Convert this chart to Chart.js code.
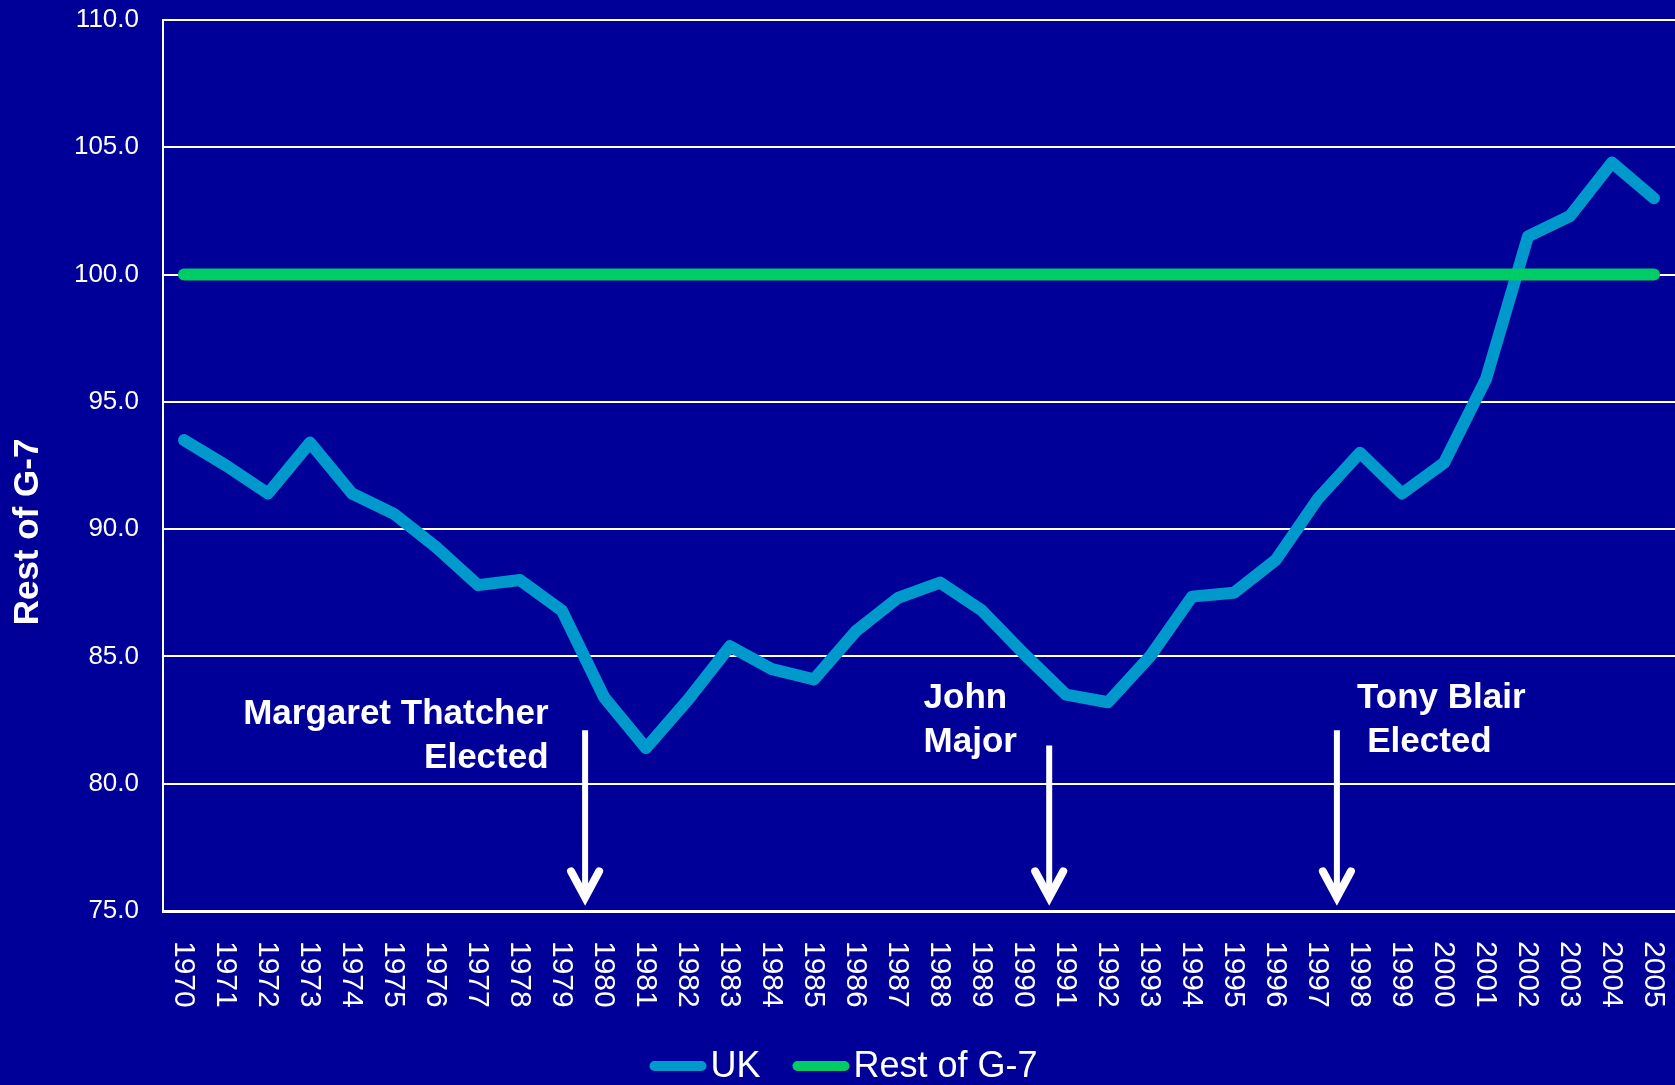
<!DOCTYPE html>
<html>
<head>
<meta charset="utf-8">
<script src="https://cdn.jsdelivr.net/npm/chart.js@4"></script>
<style>
  body { margin: 0; background: #000099; }
  #wrap { width: 1675px; height: 1085px; }
</style>
</head>
<body>
<div id="wrap"><canvas id="chart"></canvas></div>
<script>
const FONT = '"Liberation Sans", Arial, sans-serif';

// years on the x axis
const years = ['1970','1971','1972','1973','1974','1975','1976','1977','1978','1979',
  '1980','1981','1982','1983','1984','1985','1986','1987','1988','1989',
  '1990','1991','1992','1993','1994','1995','1996','1997','1998','1999',
  '2000','2001','2002','2003','2004','2005'];

// UK, index with rest of G-7 = 100
const ukValues = [93.5, 92.5, 91.4, 93.4, 91.4, 90.6, 89.3, 87.8, 88.0, 86.8,
  83.4, 81.4, 83.3, 85.4, 84.5, 84.1, 86.0, 87.3, 87.9, 86.8,
  85.1, 83.5, 83.2, 85.0, 87.35, 87.5, 88.8, 91.2, 93.0, 91.4,
  92.6, 95.9, 101.5, 102.3, 104.4, 103.0];

const restValues = [100, 100, 100, 100, 100, 100, 100, 100, 100, 100,
  100, 100, 100, 100, 100, 100, 100, 100, 100, 100,
  100, 100, 100, 100, 100, 100, 100, 100, 100, 100,
  100, 100, 100, 100, 100, 100];

const yTicks = [75, 80, 85, 90, 95, 100, 105, 110];

// annotations: arrows (x as fractional year, y in index units)
const arrowYear = [1979.55, 1990.6, 1997.45];
const arrowTop = [82.1, 81.5, 82.1];
const arrowTip = 75.3;

// annotation text lines: [text, year, value, align]
const notes = [
  ['Margaret Thatcher', 1978.68, 82.73, 'right'],
  ['Elected', 1978.68, 81.0, 'right'],
  ['John', 1987.61, 83.36, 'left'],
  ['Major', 1987.61, 81.63, 'left'],
  ['Tony Blair', 1997.93, 83.36, 'left'],
  ['Elected', 1998.17, 81.63, 'left']
];

const bgPlugin = {
  id: 'bg',
  beforeDraw(chart) {
    const c = chart.ctx;
    c.save();
    c.fillStyle = '#000099';
    c.fillRect(0, 0, chart.width, chart.height);
    c.restore();
  }
};

const extras = {
  id: 'extras',
  afterDraw(chart) {
    const c = chart.ctx;
    const xs = chart.scales.x, ys = chart.scales.y;
    c.save();
    c.fillStyle = '#ffffff';
    c.strokeStyle = '#ffffff';

    // x labels, rotated clockwise
    c.font = '30px ' + FONT;
    c.textAlign = 'left';
    c.textBaseline = 'middle';
    years.forEach((y, i) => {
      const px = xs.getPixelForTick(i);
      c.save();
      c.translate(px, 941);
      c.rotate(Math.PI / 2);
      c.fillText(y, 0, 1);
      c.restore();
    });

    // y axis title
    c.save();
    c.font = 'bold 35px ' + FONT;
    c.textAlign = 'center';
    c.translate(28, 532);
    c.rotate(-Math.PI / 2);
    c.fillText('Rest of G-7', 0, 0);
    c.restore();

    // annotation text
    c.font = 'bold 35px ' + FONT;
    notes.forEach(n => {
      c.textAlign = n[3];
      c.fillText(n[0], xs.getPixelForValue(n[1] - 1970), ys.getPixelForValue(n[2]));
    });

    // arrows
    arrowYear.forEach((yr, i) => {
      const x = xs.getPixelForValue(yr - 1970);
      const top = ys.getPixelForValue(arrowTop[i]);
      const tip = ys.getPixelForValue(arrowTip);
      c.lineWidth = 6;
      c.lineCap = 'butt';
      c.beginPath();
      c.moveTo(x, top);
      c.lineTo(x, tip - 6);
      c.stroke();
      c.lineWidth = 8;
      c.lineCap = 'round';
      c.lineJoin = 'miter';
      c.beginPath();
      c.moveTo(x - 14, tip - 32);
      c.lineTo(x, tip - 6);
      c.lineTo(x + 14, tip - 32);
      c.stroke();
    });

    // legend
    c.font = '36px ' + FONT;
    c.textAlign = 'left';
    const ly = 1066, lineLen = 47, gap = 4, itemGap = 32;
    const items = chart.data.datasets.map(d => ({
      label: d.label, color: d.borderColor,
      w: lineLen + 10 + gap + c.measureText(d.label).width
    }));
    const total = items.reduce((s, it) => s + it.w, 0) + itemGap * (items.length - 1);
    let lx = chart.width / 2 - total / 2 + 6;
    items.forEach(it => {
      c.strokeStyle = it.color;
      c.lineWidth = 10;
      c.lineCap = 'round';
      c.beginPath();
      c.moveTo(lx + 5, ly);
      c.lineTo(lx + 5 + lineLen, ly);
      c.stroke();
      c.fillStyle = '#ffffff';
      c.fillText(it.label, lx + lineLen + 10 + gap, ly + 1);
      lx += it.w + itemGap;
    });
    c.restore();
  }
};

new Chart(document.getElementById('chart'), {
  type: 'line',
  data: {
    labels: years,
    datasets: [
      {
        label: 'UK',
        data: ukValues,
        borderColor: '#0099cc',
        backgroundColor: '#0099cc',
        borderWidth: 12,
        borderCapStyle: 'round',
        borderJoinStyle: 'round',
        pointRadius: 0,
        tension: 0,
        order: 1
      },
      {
        label: 'Rest of G-7',
        data: restValues,
        borderColor: '#00cc66',
        backgroundColor: '#00cc66',
        borderWidth: 12,
        borderCapStyle: 'round',
        pointRadius: 0,
        tension: 0,
        order: 0
      }
    ]
  },
  options: {
    responsive: true,
    maintainAspectRatio: false,
    animation: false,
    layout: { padding: { top: 20, right: 0, left: 0, bottom: 0 } },
    plugins: { legend: { display: false }, tooltip: { enabled: false } },
    scales: {
      x: {
        offset: true,
        grid: { display: false, drawTicks: false },
        border: { display: true, color: '#ffffff', width: 3 },
        ticks: { display: false },
        afterFit(s) {
          s.height = 174;
          s.paddingLeft = 0; s.paddingRight = 0;
        }
      },
      y: {
        min: 75,
        max: 110,
        afterBuildTicks(s) { s.ticks = yTicks.map(v => ({ value: v })); },
        grid: { color: '#ffffff', lineWidth: 2, drawTicks: false },
        border: { display: true, color: '#ffffff', width: 2 },
        ticks: {
          color: '#ffffff',
          padding: 24,
          font: { family: FONT, size: 26 },
          callback: v => v.toFixed(1)
        },
        afterFit(s) {
          s.width = 163;
          s.paddingTop = 0; s.paddingBottom = 0;
        }
      }
    }
  },
  plugins: [bgPlugin, extras]
});
</script>
</body>
</html>
